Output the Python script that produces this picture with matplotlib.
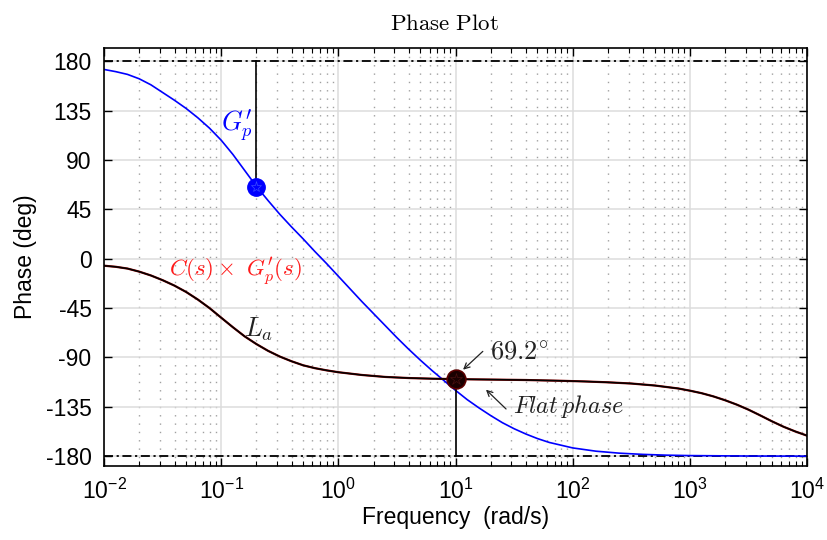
import numpy as np
import matplotlib
matplotlib.use("Agg")
import matplotlib.pyplot as plt
from matplotlib.ticker import LogLocator, NullFormatter, FixedLocator

plt.rcParams['font.family'] = ['Liberation Sans', 'DejaVu Sans']
plt.rcParams['mathtext.fontset'] = 'cm'
plt.rcParams['axes.unicode_minus'] = False

# === Data (log10 of frequency, phase in deg) ===
gp_logw = [-2.0, -1.9, -1.8, -1.7, -1.6, -1.5, -1.4, -1.3, -1.2, -1.1,
           -1.0, -0.9, -0.8, -0.7, -0.6, -0.5, -0.4, -0.3, -0.2, -0.1,
           0.0, 0.1, 0.2, 0.3, 0.4, 0.5, 0.6, 0.7, 0.8, 0.9,
           1.0, 1.1, 1.2, 1.3, 1.4, 1.5, 1.6, 1.7, 1.8, 2.0,
           2.2, 2.4, 2.6, 2.8, 3.0, 3.5, 4.0]
gp_phase = [172.5, 170.5, 168, 164, 158.5, 151.5, 144.5, 137, 128.5, 119,
            108, 95, 80.5, 66, 53, 40.5, 29, 18, 6.5, -4.5,
            -16, -27.5, -39, -50, -61, -72, -82.5, -92.5, -102, -111,
            -120, -128.5, -136, -143, -149.5, -155, -159.8, -164, -167.5, -172.5,
            -175.5, -177.3, -178.4, -179.1, -179.5, -179.9, -180]

la_logw = [-2.0, -1.9, -1.8, -1.7, -1.6, -1.5, -1.4, -1.3, -1.2, -1.1,
           -1.0, -0.9, -0.8, -0.7, -0.6, -0.5, -0.4, -0.3, -0.2, -0.1,
           0.0, 0.2, 0.4, 0.6, 0.8, 1.0, 1.3, 1.6, 1.9, 2.1,
           2.3, 2.5, 2.7, 2.9, 3.0, 3.1, 3.2, 3.3, 3.4, 3.5,
           3.6, 3.7, 3.8, 3.9, 4.0]
la_phase = [-6.4, -7.4, -9.0, -11.8, -15.3, -19.6, -24.5, -30.3, -37.2, -45.0,
            -53.8, -62.5, -70.8, -77.8, -84.0, -89.2, -93.5, -97.2, -99.8, -101.8,
            -103.5, -106.0, -107.8, -108.8, -109.4, -109.8, -110.2, -110.6, -111.3, -111.9,
            -112.7, -113.8, -115.6, -118.3, -120.3, -122.6, -125.5, -129.0, -133.0, -137.6,
            -142.8, -148.2, -153.2, -157.5, -161.3]

gp_mark_w, gp_mark_phase = 0.2, 65.5
la_mark_w, la_mark_phase = 10.0, -110.0

gp_w = 10.0 ** np.array(gp_logw)
la_w = 10.0 ** np.array(la_logw)

# === Figure ===
fig = plt.figure(figsize=(8.27, 5.40), dpi=100)
ax = fig.add_axes([0.1258, 0.137, 0.8500, 0.774])

ax.set_xscale('log')
ax.set_xlim(1e-2, 1e4)
ax.set_ylim(-189, 192)

# grid
ax.xaxis.set_minor_locator(LogLocator(base=10, subs=np.arange(2, 10)))
ax.xaxis.set_minor_formatter(NullFormatter())
ax.yaxis.set_major_locator(FixedLocator([-180, -135, -90, -45, 0, 45, 90, 135, 180]))
ax.grid(True, which='major', color='#dcdcdc', lw=1.1, ls='-')
ax.grid(True, which='minor', axis='x', color='#a0a0a0', lw=1.0, ls=(0, (1, 5)))
ax.set_axisbelow(True)

# +/-180 reference lines
ax.axhline(180, color='black', lw=1.3, ls=(0, (5, 2, 1.2, 2)))
ax.axhline(-180, color='black', lw=1.3, ls=(0, (5, 2, 1.2, 2)))

# curves
ax.plot(gp_w, gp_phase, color='blue', lw=1.2)
ax.plot(la_w, la_phase, color='#8b0000', lw=1.6)
ax.plot(la_w, la_phase, color='black', lw=1.1)

# marker drop lines
ax.plot([gp_mark_w, gp_mark_w], [gp_mark_phase, 180], color='black', lw=1.2)
ax.plot([la_mark_w, la_mark_w], [la_mark_phase, -180], color='black', lw=1.2)

ax.plot(gp_mark_w, gp_mark_phase, 'o', ms=12.5, color='blue', zorder=5)
ax.plot(gp_mark_w, gp_mark_phase, '*', ms=8, mfc='none', mec='#3b4cff', mew=0.5, zorder=6)
ax.plot(la_mark_w, la_mark_phase, 'o', ms=13.5, mfc='#1a0000', mec='#5a0000', mew=1.2, zorder=5)
ax.plot(la_mark_w, la_mark_phase, '*', ms=9, mfc='none', mec='#4a1010', mew=0.5, zorder=6)

# labels on the plot
ax.text(0.1365, 121.2, r"$G_p^{\prime}$", color='blue', fontsize=19, ha='center', va='center')
ax.text(0.132, -10.9, r"$C(s) \times\ G_p^{\prime}(s)$", color='#ff1a1a', fontsize=16.5,
        ha='center', va='center')
ax.text(0.21, -64.7, r"$L_a$", color='#222222', fontsize=19, ha='center', va='center')

arrow = dict(arrowstyle='->', lw=0.9, color='#222222', shrinkA=0, shrinkB=0, mutation_scale=10)
ax.annotate('', xy=(11.6, -101.2), xytext=(17.1, -84.5), arrowprops=arrow)
ax.text(19.7, -85.7, r"$69.2^{\circ}$", fontsize=19, color='#222222', ha='left', va='center')
ax.annotate('', xy=(18.2, -119.4), xytext=(27.0, -137.0), arrowprops=arrow)
ax.text(31.0, -134.9, r"$Flat\,phase$", fontsize=17.5, color='#222222', ha='left', va='center')

# axes styling
for s in ax.spines.values():
    s.set_linewidth(1.2)
ax.tick_params(which='both', direction='in', top=True, right=True, labelsize=16.5)
ax.tick_params(which='major', length=6, width=1.0, pad=9)
ax.tick_params(which='minor', length=3.5, width=0.8)

ax.set_title(r"$\mathrm{Phase\ Plot}$", fontsize=16.5, pad=13, x=0.4836)
ax.set_xlabel("Frequency  (rad/s)", fontsize=16.5, labelpad=2)
ax.set_ylabel("Phase (deg)", fontsize=16.5, labelpad=6)

fig.savefig("out.png", dpi=100)
